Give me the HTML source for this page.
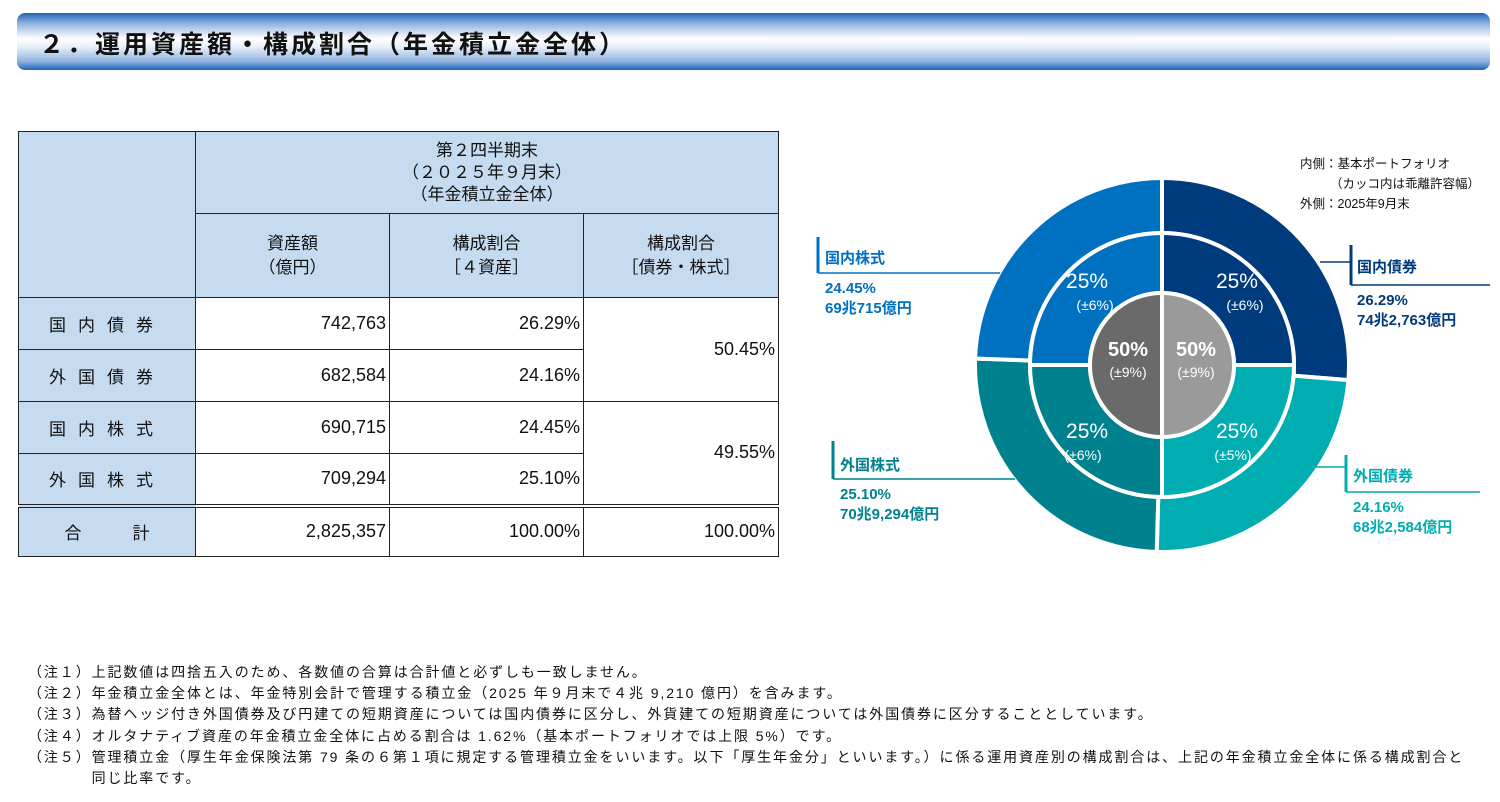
<!DOCTYPE html>
<html><head><meta charset="utf-8">
<style>
body{margin:0;width:1500px;height:802px;background:#fff;position:relative;overflow:hidden;font-family:"Liberation Sans","Noto Sans CJK JP",sans-serif;color:#111}
.abs{position:absolute}
#title{left:17px;top:13px;width:1473px;height:57px;border-radius:8px;background:linear-gradient(to bottom,#1f64b8 0%,#8fb2df 18%,#ffffff 45%,#e6eef9 60%,#8fb2df 85%,#1f64b8 100%);}
#title span{position:absolute;left:22px;top:12px;font-size:25px;font-weight:bold;color:#111;letter-spacing:3px}
table{position:absolute;left:18px;top:131px;border-collapse:collapse;font-size:17px;table-layout:fixed;width:760px}
td{border:1.5px solid #222;padding:0;text-align:center}
.h{background:#c6dbf0}
.num{text-align:right;padding-right:3px;font-size:18px}
.lab{letter-spacing:12px;font-size:17px}
.notes{left:28px;top:662px;font-size:14px;line-height:21.2px;letter-spacing:1.9px}
.notes div{white-space:nowrap}
</style></head><body>
<div id="title" class="abs"><span>２．運用資産額・構成割合（年金積立金全体）</span></div>

<table>
<colgroup><col style="width:177px"><col style="width:194px"><col style="width:194px"><col style="width:195px"></colgroup>
<tr style="height:82px"><td class="h" rowspan="2"></td>
<td class="h" colspan="3" style="line-height:22px">第２四半期末<br>（２０２５年９月末）<br>（年金積立金全体）</td></tr>
<tr style="height:84px"><td class="h" style="line-height:24px">資産額<br>（億円）</td>
<td class="h" style="line-height:24px">構成割合<br>［４資産］</td>
<td class="h" style="line-height:24px">構成割合<br>［債券・株式］</td></tr>
<tr style="height:52px"><td class="h lab">国内債券</td><td class="num">742,763</td><td class="num">26.29%</td><td class="num" rowspan="2">50.45%</td></tr>
<tr style="height:52px"><td class="h lab">外国債券</td><td class="num">682,584</td><td class="num">24.16%</td></tr>
<tr style="height:52px"><td class="h lab">国内株式</td><td class="num">690,715</td><td class="num">24.45%</td><td class="num" rowspan="2">49.55%</td></tr>
<tr style="height:52px"><td class="h lab">外国株式</td><td class="num">709,294</td><td class="num">25.10%</td></tr>
<tr style="height:51px;border-top:4px double #222"><td class="h" style="font-size:17px">合　　　計</td><td class="num">2,825,357</td><td class="num">100.00%</td><td class="num">100.00%</td></tr>
</table>

<svg class="abs" style="left:0;top:0" width="1500" height="802">
<g id="donut"></g>
<g font-family="Liberation Sans,Noto Sans CJK JP,sans-serif">
<text x="1300" y="168" font-size="12.5" fill="#111">内側：基本ポートフォリオ</text>
<text x="1330" y="188" font-size="12.5" fill="#111">（カッコ内は乖離許容幅）</text>
<text x="1300" y="208" font-size="12.5" fill="#111">外側：2025年9月末</text>
</g>
<g id="labels" font-family="Liberation Sans,Noto Sans CJK JP,sans-serif" font-weight="bold"></g>
</svg>

<div class="abs notes">
<div>（注１）上記数値は四捨五入のため、各数値の合算は合計値と必ずしも一致しません。</div>
<div>（注２）年金積立金全体とは、年金特別会計で管理する積立金（2025 年９月末で４兆 9,210 億円）を含みます。</div>
<div>（注３）為替ヘッジ付き外国債券及び円建ての短期資産については国内債券に区分し、外貨建ての短期資産については外国債券に区分することとしています。</div>
<div>（注４）オルタナティブ資産の年金積立金全体に占める割合は 1.62%（基本ポートフォリオでは上限 5%）です。</div>
<div>（注５）管理積立金（厚生年金保険法第 79 条の６第１項に規定する管理積立金をいいます。以下「厚生年金分」といいます。）に係る運用資産別の構成割合は、上記の年金積立金全体に係る構成割合と</div>
<div>　　　　同じ比率です。</div>
</div>

<script>
const assets=["国内債券","外国債券","外国株式","国内株式"];
const actualPct=[26.29,24.16,25.10,24.45];
const actualAmt=["74兆2,763億円","68兆2,584億円","70兆9,294億円","69兆715億円"];
const policyPct=[25,25,25,25];
const policyBand=["(±6%)","(±5%)","(±6%)","(±6%)"];
const halfPct=[50,50];
const halfBand=["(±9%)","(±9%)"];
const colors=["#003b7e","#00adb0","#00818e","#0070c0"];
const halfColors=["#9a9a9a","#6a6a6a"];
const cx=1162,cy=365,R0=72,R1=132,R2=187;
const ns="http://www.w3.org/2000/svg";
const g=document.getElementById('donut');
function pt(r,f){const a=f*2*Math.PI;return [cx+r*Math.sin(a),cy-r*Math.cos(a)];}
function arc(r1,r2,f0,f1){const la=(f1-f0)>0.5?1:0;const a=pt(r2,f0),b=pt(r2,f1),c=pt(r1,f1),d=pt(r1,f0);
 if(r1===0)return `M${cx},${cy}L${a}A${r2},${r2} 0 ${la} 1 ${b}Z`;
 return `M${a}A${r2},${r2} 0 ${la} 1 ${b}L${c}A${r1},${r1} 0 ${la} 0 ${d}Z`;}
function seg(d,fill,name){const p=document.createElementNS(ns,'path');p.setAttribute('d',d);p.setAttribute('fill',fill);p.setAttribute('stroke','#fff');p.setAttribute('stroke-width','4');


g.appendChild(p);}
function txt(x,y,s,size,fill,weight,anchor){const t=document.createElementNS(ns,'text');t.setAttribute('x',x);t.setAttribute('y',y);t.setAttribute('font-size',size);t.setAttribute('fill',fill);t.setAttribute('font-weight',weight||'normal');t.setAttribute('text-anchor',anchor||'middle');t.setAttribute('font-family','Liberation Sans,Noto Sans CJK JP,sans-serif');t.textContent=s;


g.appendChild(t);}
let tot=actualPct.reduce((a,b)=>a+b,0),acc=0;
actualPct.forEach((v,i)=>{const f0=acc/tot;acc+=v;seg(arc(R1,R2,f0,acc/tot),colors[i],'outer-slice-'+i);});
let ptot=policyPct.reduce((a,b)=>a+b,0);acc=0;
policyPct.forEach((v,i)=>{const f0=acc/ptot;acc+=v;const f1=acc/ptot;seg(arc(R0,R1,f0,f1),colors[i],'middle-slice-'+i);
 const m=(f0+f1)/2,p=pt((R0+R1)/2+4,m);txt(p[0],p[1]-2,v+'%',21,'#fff');txt(p[0]+(i%3===0?8:-4),p[1]+20,policyBand[i],14,'#fff');});
let htot=halfPct[0]+halfPct[1];acc=0;
halfPct.forEach((v,i)=>{const f0=acc/htot;acc+=v;seg(arc(0,R0,f0,acc/htot),halfColors[i],'inner-half-'+i);
 const x=i===0?cx+34:cx-34;txt(x,cy-9,v+'%',20,'#fff','bold');txt(x,cy+12,halfBand[i],14,'#fff');});
const L=document.getElementById('labels');
const call=[{bx:1351,by1:245,by2:285,x2:1490,lx:1320,ly:262,tx:1357,ty:272,side:1},
{bx:1346,by1:455,by2:492,x2:1480,lx:1305,ly:467,tx:1353,ty:481,side:1},
{bx:833,by1:441,by2:479,x2:1015,lx:1015,ly:479,tx:840,ty:470,side:0},
{bx:818,by1:237,by2:273,x2:1000,lx:1000,ly:273,tx:825,ty:263,side:0}];
call.forEach((c,i)=>{const col=colors[i];
 const mk=(tag,attrs)=>{const e=document.createElementNS(ns,tag);for(const k in attrs)e.setAttribute(k,attrs[k]);L.appendChild(e);return e;};
 const b=mk('line',{x1:c.bx,y1:c.by1,x2:c.bx,y2:c.by2,stroke:col,'stroke-width':3});
 
 
 const u=mk('line',{x1:c.bx,y1:c.by2,x2:c.x2,y2:c.by2,stroke:col,'stroke-width':1.5});
 
 
 if(c.side){const k=mk('line',{x1:c.lx,y1:c.ly,x2:c.bx,y2:c.ly,stroke:col,'stroke-width':1.5});
 
 }
 const t1=mk('text',{x:c.tx,y:c.ty,'font-size':15,fill:col});t1.textContent=assets[i];
 
 
 const t2=mk('text',{x:c.tx,y:c.by2+20,'font-size':15,fill:col});t2.textContent=actualPct[i].toFixed(2)+'%';
 
 
 const t3=mk('text',{x:c.tx,y:c.by2+40,'font-size':15,fill:col});t3.textContent=actualAmt[i];
 
 
});
</script>
</body></html>
